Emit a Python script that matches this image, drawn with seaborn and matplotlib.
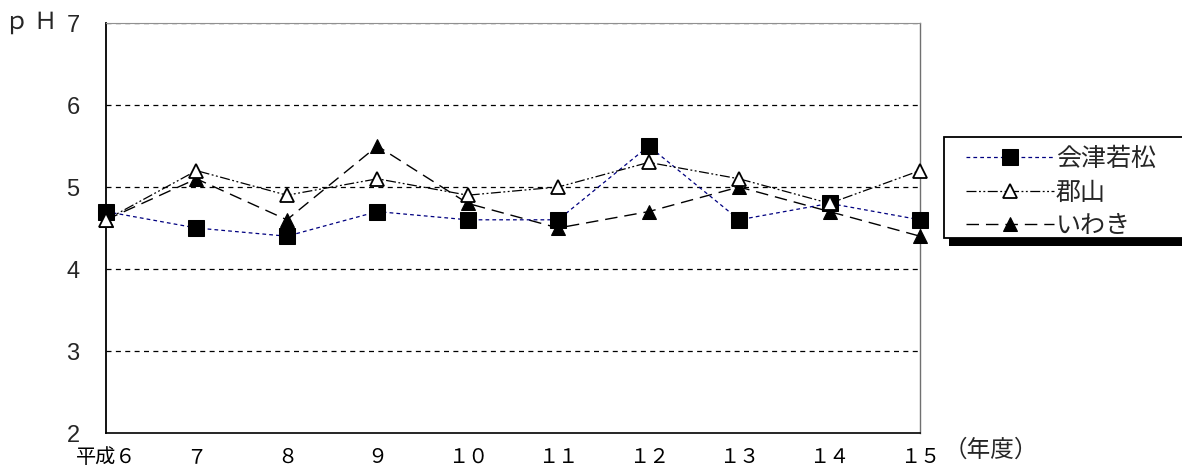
import matplotlib
matplotlib.use("Agg")
import matplotlib.pyplot as plt
import matplotlib.patches as mpatches
import seaborn as sns
import pandas as pd

# data (pH by fiscal year, Heisei 6-15)
years = [6, 7, 8, 9, 10, 11, 12, 13, 14, 15]
year_labels = ["平成６", "７", "８", "９", "１０", "１１", "１２", "１３", "１４", "１５"]
aizu = [4.7, 4.5, 4.4, 4.7, 4.6, 4.6, 5.5, 4.6, 4.8, 4.6]
koriyama = [4.6, 5.2, 4.9, 5.1, 4.9, 5.0, 5.3, 5.1, 4.8, 5.2]
iwaki = [4.6, 5.1, 4.6, 5.5, 4.8, 4.5, 4.7, 5.0, 4.7, 4.4]
series_names = ["会津若松", "郡山", "いわき"]

df = pd.DataFrame({"year": years, "会津若松": aizu, "郡山": koriyama, "いわき": iwaki})

sns.set_style("white")
plt.rcParams["font.family"] = ["Noto Sans CJK JP", "DejaVu Sans"]

fig = plt.figure(figsize=(11.82, 4.70), dpi=100)
ax = fig.add_axes([106 / 1182, 1 - 433 / 470, (920 - 106) / 1182, (433 - 23) / 470])

styles = {
    "会津若松": dict(color="#000080", linestyle=(0, (3, 2.5)), linewidth=0.9,
                 marker="s", markersize=12, markerfacecolor="black", markeredgecolor="black"),
    "郡山": dict(color="black", linestyle=(0, (8, 2, 1.5, 2, 1.5, 2)), linewidth=0.9,
               marker="^", markersize=9.5, markerfacecolor="white", markeredgecolor="black",
               markeredgewidth=1.3),
    "いわき": dict(color="black", linestyle=(0, (9, 5)), linewidth=1.0,
                marker="^", markersize=10, markerfacecolor="black", markeredgecolor="black"),
}

handles = {}
for name in ["いわき", "会津若松", "郡山"]:
    sns.lineplot(data=df, x="year", y=name, ax=ax, clip_on=False, zorder=3, **styles[name])
    handles[name] = ax.lines[-1]

ax.set_xlim(6, 15)
ax.set_ylim(2, 7)
ax.set_xticks(years)
ax.set_xticklabels(year_labels, fontsize=14.5)
ax.set_yticks([2, 3, 4, 5, 6, 7])
ax.set_yticklabels(["2", "3", "4", "5", "6", "7"], fontsize=17, family=["Liberation Sans"])
ax.tick_params(axis="x", direction="in", length=4, width=0.8, pad=10, colors="black")
ax.tick_params(axis="y", length=0, pad=19)
ax.set_xlabel("")
ax.set_ylabel("")

for yv in [3, 4, 5, 6, 7]:
    ax.axhline(yv, color="black", linestyle=(0, (4, 3.5)), linewidth=0.9, zorder=1)

ax.spines["left"].set_color("black")
ax.spines["left"].set_linewidth(1.3)
ax.spines["bottom"].set_color("black")
ax.spines["bottom"].set_linewidth(1.2)
ax.spines["right"].set_color("#707070")
ax.spines["right"].set_linewidth(1.0)
ax.spines["top"].set_color("#909090")
ax.spines["top"].set_linewidth(0.8)

fig.text(31 / 1182, 1 - 22 / 470, "ｐ Ｈ", fontsize=17, ha="center", va="center")
fig.text(944 / 1182, 1 - 450 / 470, "（年度）", fontsize=17, ha="left", va="center")

# legend box with a solid shadow, drawn by hand
W, H = 1182, 470
shadow = mpatches.Rectangle((949 / W, 1 - 246 / H), 300 / W, (246 - 144) / H,
                            transform=fig.transFigure, facecolor="black",
                            edgecolor="none", zorder=5)
box = mpatches.Rectangle((944 / W, 1 - 238 / H), 300 / W, (238 - 137) / H,
                         transform=fig.transFigure, facecolor="white",
                         edgecolor="black", linewidth=1.3, zorder=6)
fig.patches.extend([shadow, box])

leg = fig.legend([handles[n] for n in series_names], series_names,
                 loc="upper left", bbox_to_anchor=(966 / W, 1 - 146 / H),
                 frameon=False, fontsize=18, handlelength=3.5, handletextpad=0.1,
                 labelspacing=0.3, borderpad=0, borderaxespad=0)
leg.set_zorder(7)

fig.savefig("out.png", dpi=100)
